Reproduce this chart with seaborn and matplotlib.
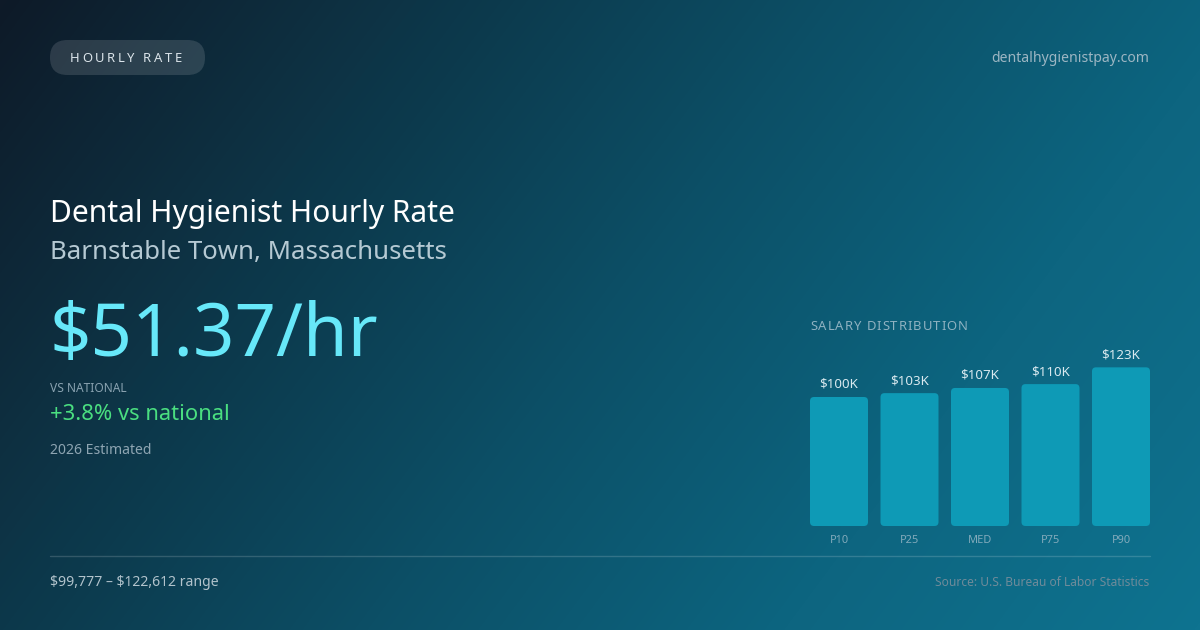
import numpy as np
import pandas as pd
import matplotlib
matplotlib.use("Agg")
import matplotlib.pyplot as plt
import seaborn as sns
from matplotlib.colors import LinearSegmentedColormap
from matplotlib.patches import FancyBboxPatch

# ---- data ----
percentiles = ["P10", "P25", "MED", "P75", "P90"]
salaries_k = [100, 103, 107, 110, 123]
bar_labels = ["$100K", "$103K", "$107K", "$110K", "$123K"]

badge_text = "HOURLY RATE"
site_text = "dentalhygienistpay.com"
title_text = "Dental Hygienist Hourly Rate"
subtitle_text = "Barnstable Town, Massachusetts"
rate_text = "$51.37/hr"
vs_label = "VS NATIONAL"
vs_text = "+3.8% vs national"
est_text = "2026 Estimated"
range_text = "$99,777 \u2013 $122,612 range"
source_text = "Source: U.S. Bureau of Labor Statistics"
dist_title = "SALARY DISTRIBUTION"

W, H, DPI = 1200, 630, 100
sns.set_theme(style="white")
plt.rcParams["font.family"] = ["Noto Sans", "DejaVu Sans"]

fig = plt.figure(figsize=(W / DPI, H / DPI), dpi=DPI)

# ---- background gradient ----
bg = fig.add_axes([0, 0, 1, 1])
bg.set_axis_off()
yy, xx = np.mgrid[0:H, 0:W]
t = (xx / W) * 0.72 + (yy / H) * 0.28
cmap = LinearSegmentedColormap.from_list(
    "bg", ["#0e1a28", "#0d3547", "#0c4f66", "#0d6580", "#0e7390"])
bg.imshow(t, cmap=cmap, vmin=0, vmax=1, aspect="auto",
          extent=[0, W, H, 0], interpolation="bilinear")
bg.set_xlim(0, W)
bg.set_ylim(H, 0)


def px(v):
    return v * 72.0 / DPI


def ftext(x, y, s, size, color, ha="left", va="center", weight="normal", spacing=0.0):
    if spacing == 0:
        return bg.text(x, y, s, fontsize=px(size), color=color, ha=ha, va=va,
                       fontweight=weight, parse_math=False)
    renderer = fig.canvas.get_renderer()
    cx = x
    for ch in s:
        tt = bg.text(cx, y, ch, fontsize=px(size), color=color, ha="left",
                     va=va, fontweight=weight, parse_math=False)
        bb = tt.get_window_extent(renderer=renderer)
        cx += bb.width + spacing
    return None


# badge pill
pill = FancyBboxPatch((50, 40), 155, 35,
                      boxstyle="round,pad=0,rounding_size=17.5",
                      facecolor="#ffffff", alpha=0.13, edgecolor="none")
bg.add_patch(pill)
ftext(70, 58, badge_text, 13, "#dbe4ea", spacing=2.6)
ftext(1149, 59, site_text, 14, "#9db6c3", ha="right")

ftext(50, 214, title_text, 30, "#ffffff")
ftext(50, 252, subtitle_text, 25.8, "#b5c9d3")
ftext(49, 337, rate_text, 72.5, "#67e8f9")
ftext(50, 389, vs_label, 12, "#89a2b0")
ftext(50, 414, vs_text, 22, "#4ade80")
ftext(50, 450, est_text, 14, "#8ea5b2")

bg.plot([50, 1150], [556, 556], color="#ffffff", alpha=0.16, lw=1)
ftext(50, 582, range_text, 14, "#b2c3cc")
ftext(1149, 582, source_text, 12, "#6f8b9a", ha="right")
ftext(810, 326, dist_title, 13, "#8fb2c1", spacing=1.0)

# ---- bar chart ----
x0, x1 = 810, 1150
ybase, ytop = 526, 340
ax = fig.add_axes([x0 / W, (H - ybase) / H, (x1 - x0) / W, (ybase - ytop) / H])
ax.patch.set_alpha(0)
df = pd.DataFrame({"pct": percentiles, "sal": salaries_k})
bw = 58 / 70.5
sns.barplot(data=df, x="pct", y="sal", ax=ax, color="#0e9ab6",
            saturation=1, width=bw)
ax.set_xlim(-bw / 2, len(percentiles) - 1 + bw / 2)
ax.set_ylim(0, (ybase - ytop) / 1.29)
for s in ax.spines.values():
    s.set_visible(False)
ax.set_yticks([])
ax.set_xlabel("")
ax.set_ylabel("")
ax.tick_params(axis="x", length=0, pad=px(9), labelsize=px(11), labelcolor="#82aabb")

# value labels
ax.bar_label(ax.containers[0], labels=bar_labels, padding=px(6),
             fontsize=px(13.3), color="#d9e9ef")

# rounded bar corners
fig.canvas.draw()
xl = ax.get_xlim(); yl = ax.get_ylim()
bbox = ax.get_window_extent()
xu_per_px = (xl[1] - xl[0]) / bbox.width
yu_per_px = (yl[1] - yl[0]) / bbox.height
r_px = 4
for p in list(ax.patches):
    bx, by = p.get_x(), p.get_y()
    bwid, bh = p.get_width(), p.get_height()
    fc = p.get_facecolor()
    p.set_visible(False)
    rp = FancyBboxPatch((bx, by), bwid, bh,
                        boxstyle=f"round,pad=0,rounding_size={r_px * xu_per_px}",
                        mutation_aspect=yu_per_px / xu_per_px,
                        facecolor=fc, edgecolor="none")
    ax.add_patch(rp)

fig.savefig("out.png", dpi=DPI)
